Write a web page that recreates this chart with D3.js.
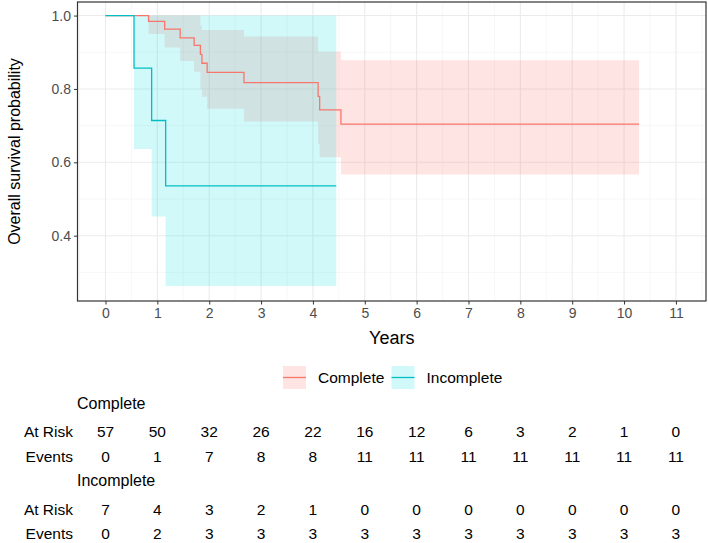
<!DOCTYPE html>
<html>
<head>
<meta charset="utf-8">
<script src="https://cdn.jsdelivr.net/npm/d3@7"></script>
<style>
  body { margin: 0; background: #fff; }
  svg { display: block; font-family: "Liberation Sans", Arial, sans-serif; }
</style>
</head>
<body>
<svg id="chart" width="708" height="543"></svg>
<script>
// tick values
const yearTicks = [0, 1, 2, 3, 4, 5, 6, 7, 8, 9, 10, 11];
const yearMinor = [-0.5, 0.5, 1.5, 2.5, 3.5, 4.5, 5.5, 6.5, 7.5, 8.5, 9.5, 10.5, 11.5];
const survTicks = [0.4, 0.6, 0.8, 1.0];
const survMinor = [0.3, 0.5, 0.7, 0.9];

// complete group (KM steps)
const completeTime  = [0, 0.83, 1.14, 1.44, 1.71, 1.83, 1.86, 1.96, 2.67, 4.10, 4.13, 4.54];
const completeSurv  = [1, 0.984, 0.963, 0.939, 0.919, 0.894, 0.870, 0.845, 0.817, 0.780, 0.743, 0.704];
const completeLower = [1, 0.950, 0.913, 0.876, 0.847, 0.800, 0.779, 0.746, 0.711, 0.650, 0.614, 0.567];
const completeUpper = [1, 1, 1, 1, 1, 0.973, 0.961, 0.961, 0.943, 0.902, 0.902, 0.878];
const completeEnd = 10.29;

// incomplete group
const incTime  = [0, 0.55, 0.89, 1.16];
const incSurv  = [1, 0.857, 0.714, 0.536];
const incLower = [1, 0.636, 0.452, 0.263];
const incUpper = [1, 1, 1, 1];
const incEnd = 4.45;

// risk table
const completeAtRisk = [57, 50, 32, 26, 22, 16, 12, 6, 3, 2, 1, 0];
const completeEvents = [0, 1, 7, 8, 8, 11, 11, 11, 11, 11, 11, 11];
const incAtRisk = [7, 4, 3, 2, 1, 0, 0, 0, 0, 0, 0, 0];
const incEvents = [0, 2, 3, 3, 3, 3, 3, 3, 3, 3, 3, 3];

const red = "#F8766D", teal = "#00BFC4";
const svg = d3.select("#chart");

const panel = {left: 77.5, right: 706, top: 2, bottom: 301};
const x = d3.scaleLinear().domain([-0.54, 11.58]).range([panel.left, panel.right]);
const y = d3.scaleLinear().domain([0.222, 1.037]).range([panel.bottom, panel.top]);

// grid
const grid = svg.append("g");
grid.selectAll(".vmin").data(yearMinor).enter().append("line")
  .attr("x1", d => x(d)).attr("x2", d => x(d))
  .attr("y1", panel.top).attr("y2", panel.bottom)
  .attr("stroke", "#f2f2f2").attr("stroke-width", 0.6);
grid.selectAll(".hmin").data(survMinor).enter().append("line")
  .attr("x1", panel.left).attr("x2", panel.right)
  .attr("y1", d => y(d)).attr("y2", d => y(d))
  .attr("stroke", "#f2f2f2").attr("stroke-width", 0.6);
grid.selectAll(".vmaj").data(yearTicks).enter().append("line")
  .attr("x1", d => x(d)).attr("x2", d => x(d))
  .attr("y1", panel.top).attr("y2", panel.bottom)
  .attr("stroke", "#ebebeb").attr("stroke-width", 1.1);
grid.selectAll(".hmaj").data(survTicks).enter().append("line")
  .attr("x1", panel.left).attr("x2", panel.right)
  .attr("y1", d => y(d)).attr("y2", d => y(d))
  .attr("stroke", "#ebebeb").attr("stroke-width", 1.1);

function toRows(time, surv, lower, upper, end) {
  const rows = time.map((t, i) => ({t: t, s: surv[i], lo: lower[i], hi: upper[i]}));
  const last = rows[rows.length - 1];
  rows.push({t: end, s: last.s, lo: last.lo, hi: last.hi});
  return rows;
}

const groups = [
  {rows: toRows(completeTime, completeSurv, completeLower, completeUpper, completeEnd), color: red, fill: "#F8766D"},
  {rows: toRows(incTime, incSurv, incLower, incUpper, incEnd), color: teal, fill: "#1BE3E8"}
];

const band = d3.area().curve(d3.curveStepAfter)
  .x(d => x(d.t)).y0(d => y(d.lo)).y1(d => y(d.hi));
const line = d3.line().curve(d3.curveStepAfter)
  .x(d => x(d.t)).y(d => y(d.s));

groups.forEach(g => {
  svg.append("path").attr("d", band(g.rows))
    .attr("fill", g.fill).attr("fill-opacity", 0.2);
});
groups.forEach(g => {
  svg.append("path").attr("d", line(g.rows))
    .attr("fill", "none").attr("stroke", g.color).attr("stroke-width", 1.3);
});

// panel border
svg.append("rect")
  .attr("x", panel.left).attr("y", panel.top)
  .attr("width", panel.right - panel.left).attr("height", panel.bottom - panel.top)
  .attr("fill", "none").attr("stroke", "#333").attr("stroke-width", 1.2);

// axes
const xAxis = svg.append("g").attr("transform", `translate(0,${panel.bottom})`)
  .call(d3.axisBottom(x).tickValues(yearTicks).tickSize(3.5).tickPadding(4));
const yAxis = svg.append("g").attr("transform", `translate(${panel.left},0)`)
  .call(d3.axisLeft(y).tickValues(survTicks).tickFormat(d3.format(".1f")).tickSize(3.5).tickPadding(3));
[xAxis, yAxis].forEach(a => {
  a.select(".domain").remove();
  a.selectAll(".tick line").attr("stroke", "#333");
  a.selectAll(".tick text").attr("fill", "#4d4d4d")
    .style("font-size", "14px").style("font-family", "Liberation Sans, Arial, sans-serif");
});

svg.append("text").attr("x", (panel.left + panel.right) / 2).attr("y", 344)
  .attr("text-anchor", "middle").style("font-size", "18px").text("Years");
svg.append("text")
  .attr("transform", `translate(20,${(panel.top + panel.bottom) / 2}) rotate(-90)`)
  .attr("text-anchor", "middle").style("font-size", "16px").text("Overall survival probability");

// legend
const legendItems = [
  {label: "Complete", color: red, fill: "#F8766D", x: 283},
  {label: "Incomplete", color: teal, fill: "#1BE3E8", x: 391.5}
];
legendItems.forEach(it => {
  svg.append("rect").attr("x", it.x).attr("y", 366).attr("width", 23).attr("height", 23)
    .attr("fill", it.fill).attr("fill-opacity", 0.2);
  svg.append("line").attr("x1", it.x).attr("x2", it.x + 23).attr("y1", 377.5).attr("y2", 377.5)
    .attr("stroke", it.color).attr("stroke-width", 1.3);
  svg.append("text").attr("x", it.x + 35).attr("y", 383)
    .style("font-size", "15.5px").text(it.label);
});

// risk table
const tables = [
  {title: "Complete", y: 403, rows: [["At Risk", completeAtRisk, 432], ["Events", completeEvents, 457]]},
  {title: "Incomplete", y: 480, rows: [["At Risk", incAtRisk, 510], ["Events", incEvents, 534]]}
];
tables.forEach(tb => {
  svg.append("text").attr("x", 77).attr("y", tb.y).attr("dy", "0.35em")
    .style("font-size", "16px").text(tb.title);
  tb.rows.forEach(([label, vals, ry]) => {
    svg.append("text").attr("x", 73).attr("y", ry).attr("dy", "0.35em")
      .attr("text-anchor", "end").style("font-size", "15.5px").text(label);
    svg.selectAll(null).data(vals).enter().append("text")
      .attr("x", (d, i) => x(yearTicks[i])).attr("y", ry).attr("dy", "0.35em")
      .attr("text-anchor", "middle").style("font-size", "15.5px").text(d => d);
  });
});
</script>
</body>
</html>
